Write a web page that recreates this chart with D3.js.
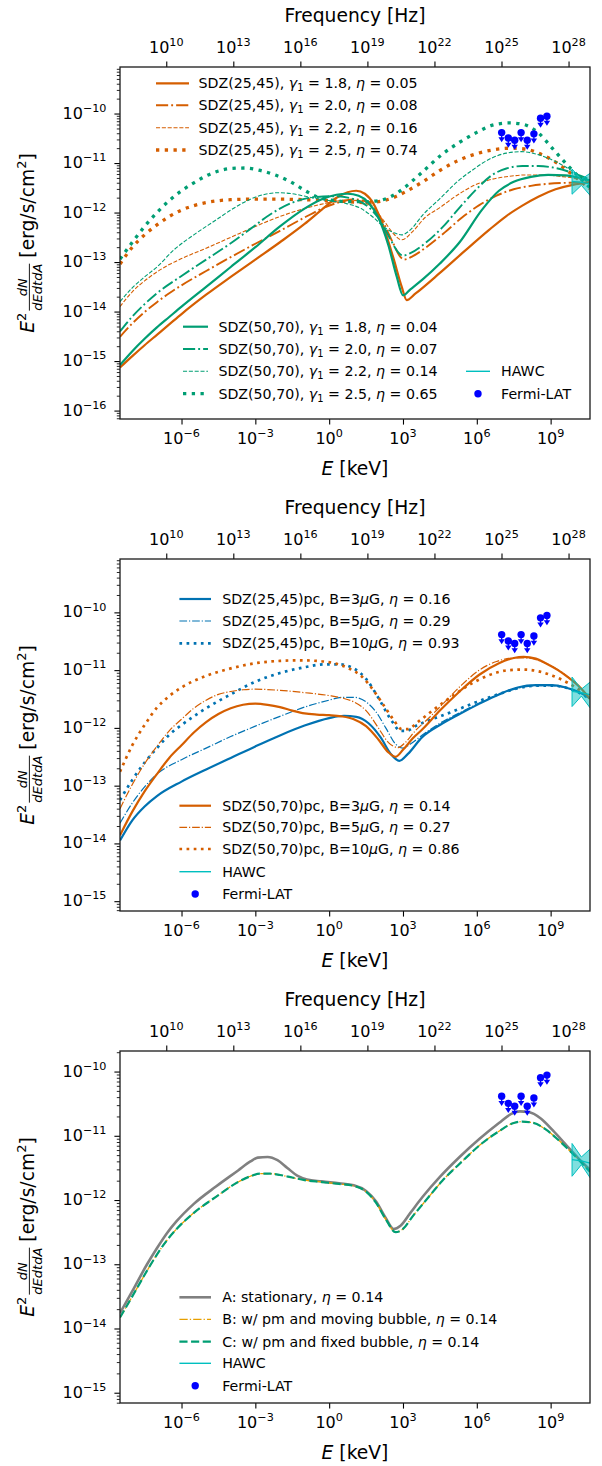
<!DOCTYPE html>
<html>
<head>
<meta charset="utf-8">
<script src="https://cdn.jsdelivr.net/npm/d3@7"></script>
<style>
  body { margin: 0; background: #fff; }
  svg { display: block; }
  text { white-space: pre; }
</style>
</head>
<body>
<div id="chart"></div>
<script>
// ---- data: [log10 E (keV), log10 E^2 dN/dEdtdA (erg/s/cm^2)] ----

// panel 1, SDZ(25,45)
const sdz2545_g18 = [[-8.5,-15.13],[-8,-14.9],[-7.5,-14.68],[-7,-14.47],[-6.5,-14.26],[-6,-14.05],[-5,-13.66],[-4,-13.3],[-3,-12.95],[-2,-12.6],[-1,-12.23],[-0.3,-11.94],[0.3,-11.7],[0.75,-11.59],[1.1,-11.56],[1.45,-11.62],[1.8,-11.82],[2.2,-12.28],[2.6,-12.9],[2.95,-13.5],[3.15,-13.77],[3.5,-13.64],[4.5,-13.22],[5.5,-12.78],[6.5,-12.35],[7.2,-12.07],[7.85,-11.86],[8.5,-11.68],[9.2,-11.53],[9.9,-11.44],[10.6,-11.39]];
const sdz2545_g20 = [[-8.5,-14.51],[-8,-14.24],[-7.5,-14.01],[-7,-13.81],[-6.5,-13.63],[-6,-13.47],[-5,-13.18],[-4,-12.9],[-3,-12.63],[-2,-12.37],[-1,-12.1],[-0.2,-11.9],[0.5,-11.78],[1,-11.73],[1.4,-11.76],[1.8,-11.9],[2.2,-12.2],[2.6,-12.62],[2.9,-12.9],[3.05,-12.95],[3.4,-12.88],[4,-12.68],[4.7,-12.4],[5.4,-12.1],[6.1,-11.85],[6.8,-11.66],[7.5,-11.53],[8.2,-11.46],[8.9,-11.42],[9.6,-11.4],[10.6,-11.39]];
const sdz2545_g22 = [[-8.5,-13.9],[-8,-13.6],[-7.5,-13.38],[-7,-13.2],[-6.5,-13.05],[-6,-12.93],[-5,-12.72],[-4,-12.5],[-3,-12.28],[-2,-12.08],[-1,-11.92],[0,-11.8],[0.7,-11.75],[1.2,-11.76],[1.7,-11.88],[2.2,-12.15],[2.6,-12.42],[2.95,-12.55],[3.4,-12.38],[3.9,-12.1],[4.5,-11.9],[5.2,-11.65],[5.9,-11.45],[6.6,-11.33],[7.3,-11.27],[8,-11.24],[8.7,-11.24],[9.4,-11.27],[10,-11.31],[10.6,-11.38]];
const sdz2545_g25 = [[-8.5,-13.04],[-8,-12.7],[-7.5,-12.45],[-7,-12.25],[-6.5,-12.08],[-6,-11.95],[-5.5,-11.86],[-5,-11.8],[-4.5,-11.76],[-4,-11.74],[-3,-11.73],[-2,-11.73],[-1,-11.74],[0,-11.76],[0.8,-11.78],[1.5,-11.8],[2.1,-11.77],[2.6,-11.7],[3.1,-11.58],[3.8,-11.38],[4.5,-11.15],[5.2,-10.96],[6,-10.81],[6.7,-10.73],[7.4,-10.7],[8,-10.72],[8.6,-10.82],[9.2,-10.98],[9.8,-11.2],[10.3,-11.4],[10.6,-11.52]];
// panel 1, SDZ(50,70)
const sdz5070_g18 = [[-8.5,-15.08],[-8,-14.8],[-7.5,-14.55],[-7,-14.32],[-6.5,-14.11],[-6,-13.9],[-5,-13.5],[-4,-13.1],[-3,-12.7],[-2,-12.28],[-1,-11.92],[-0.3,-11.73],[0.3,-11.64],[0.75,-11.62],[1.2,-11.66],[1.6,-11.8],[2,-12.1],[2.4,-12.65],[2.75,-13.3],[3,-13.67],[3.3,-13.55],[3.8,-13.35],[4.5,-13.03],[5.3,-12.6],[6.2,-11.95],[6.9,-11.56],[7.5,-11.38],[8.2,-11.28],[8.9,-11.24],[9.6,-11.25],[10.2,-11.3],[10.6,-11.35]];
const sdz5070_g20 = [[-8.5,-14.4],[-8,-14.1],[-7.5,-13.85],[-7,-13.63],[-6,-13.28],[-5,-12.95],[-4,-12.62],[-3.2,-12.33],[-2.4,-12.04],[-1.5,-11.8],[-0.6,-11.69],[0.2,-11.67],[1,-11.73],[1.6,-11.89],[2.1,-12.18],[2.5,-12.55],[2.8,-12.8],[3,-12.87],[3.3,-12.82],[3.9,-12.62],[4.6,-12.3],[5.3,-11.9],[6,-11.52],[6.6,-11.25],[7.2,-11.11],[7.85,-11.06],[8.5,-11.06],[9.2,-11.1],[9.9,-11.2],[10.6,-11.33]];
const sdz5070_g22 = [[-8.5,-13.8],[-8,-13.52],[-7.5,-13.3],[-7,-13.1],[-6.3,-12.75],[-5.5,-12.45],[-4.6,-12.15],[-4,-11.95],[-3.2,-11.73],[-2.6,-11.63],[-2.1,-11.6],[-1.5,-11.62],[-0.9,-11.68],[-0.1,-11.75],[0.7,-11.82],[1.3,-11.92],[1.8,-12.1],[2.25,-12.3],[2.7,-12.42],[2.95,-12.45],[3.3,-12.35],[3.8,-12.05],[4.5,-11.72],[5.2,-11.38],[5.8,-11.15],[6.6,-10.9],[7.2,-10.8],[7.8,-10.77],[8.5,-10.83],[9.2,-10.97],[9.9,-11.17],[10.6,-11.42]];
const sdz5070_g25 = [[-8.5,-12.94],[-8,-12.6],[-7.5,-12.28],[-7,-12],[-6.5,-11.76],[-6,-11.56],[-5.5,-11.4],[-5,-11.26],[-4.5,-11.16],[-4,-11.11],[-3.4,-11.1],[-2.8,-11.15],[-2.2,-11.24],[-1.6,-11.37],[-1,-11.55],[-0.5,-11.68],[0.1,-11.75],[0.8,-11.78],[1.4,-11.78],[2,-11.76],[2.5,-11.68],[3,-11.52],[3.7,-11.22],[4.6,-10.82],[5.3,-10.58],[6,-10.38],[6.6,-10.24],[7.3,-10.19],[7.9,-10.22],[8.5,-10.39],[9.1,-10.72],[9.7,-11.05],[10.15,-11.28],[10.6,-11.5]];

// panel 2, magnetic field variants
const pc2545_b3 = [[-8.5,-13.95],[-8,-13.6],[-7.5,-13.36],[-7,-13.18],[-6,-12.93],[-5,-12.72],[-4,-12.52],[-3,-12.32],[-2,-12.13],[-1,-11.96],[0,-11.83],[0.6,-11.79],[1.1,-11.81],[1.6,-11.92],[2.1,-12.17],[2.5,-12.45],[2.85,-12.57],[3.2,-12.45],[3.78,-12.16],[4.5,-11.95],[5.3,-11.76],[6.11,-11.58],[6.9,-11.42],[7.66,-11.3],[8.4,-11.26],[9.06,-11.26],[9.6,-11.3],[10.1,-11.37],[10.6,-11.49]];
const pc2545_b5 = [[-8.5,-13.65],[-8,-13.3],[-7.5,-13.02],[-7,-12.8],[-6,-12.55],[-5,-12.35],[-4,-12.15],[-3,-11.97],[-2,-11.8],[-1,-11.64],[0,-11.52],[0.5,-11.47],[1,-11.47],[1.5,-11.55],[1.9,-11.72],[2.3,-12],[2.7,-12.28],[3,-12.35],[3.3,-12.28],[3.8,-12.12],[4.5,-11.92],[5.3,-11.74],[6.1,-11.57],[6.9,-11.42],[7.7,-11.31],[8.4,-11.27],[9.1,-11.27],[9.6,-11.3],[10.1,-11.37],[10.6,-11.49]];
const pc2545_b10 = [[-8.5,-13.25],[-8,-12.9],[-7.5,-12.6],[-7,-12.35],[-6.5,-12.12],[-6,-11.95],[-5.5,-11.8],[-5,-11.66],[-4,-11.42],[-3,-11.2],[-2,-11.05],[-1,-10.95],[-0.2,-10.9],[0.4,-10.9],[1,-10.97],[1.5,-11.15],[2,-11.48],[2.5,-11.85],[2.9,-12.05],[3.15,-12.05],[3.5,-11.97],[4,-11.88],[5,-11.72],[6,-11.55],[7,-11.4],[7.8,-11.3],[8.5,-11.27],[9.1,-11.27],[9.6,-11.3],[10.1,-11.38],[10.6,-11.5]];
const pc5070_b3 = [[-8.5,-13.86],[-8,-13.45],[-7.5,-13.1],[-7,-12.8],[-6.5,-12.52],[-6,-12.3],[-5.5,-12.08],[-5,-11.9],[-4.5,-11.76],[-4,-11.66],[-3.5,-11.6],[-3,-11.58],[-2.5,-11.6],[-2,-11.64],[-1.5,-11.7],[-1,-11.75],[-0.5,-11.77],[0,-11.78],[0.5,-11.8],[1,-11.85],[1.5,-11.97],[2,-12.2],[2.4,-12.42],[2.7,-12.5],[3,-12.38],[3.4,-12.18],[3.8,-12.02],[4.5,-11.7],[5.3,-11.37],[6.1,-11.08],[6.9,-10.88],[7.5,-10.79],[7.9,-10.77],[8.4,-10.8],[8.8,-10.88],[9.3,-11],[9.7,-11.12],[10.2,-11.3],[10.6,-11.5]];
const pc5070_b5 = [[-8.5,-13.4],[-8,-12.98],[-7.5,-12.62],[-7,-12.32],[-6.5,-12.05],[-6,-11.85],[-5.5,-11.66],[-5,-11.52],[-4.5,-11.42],[-4,-11.37],[-3.5,-11.34],[-3,-11.33],[-2,-11.35],[-1,-11.39],[0,-11.44],[0.5,-11.48],[1,-11.55],[1.5,-11.7],[2,-12],[2.4,-12.25],[2.8,-12.34],[3.1,-12.25],[3.5,-12.05],[4,-11.85],[4.7,-11.55],[5.4,-11.25],[6.1,-11],[6.8,-10.85],[7.5,-10.79],[8,-10.79],[8.5,-10.83],[9,-10.92],[9.5,-11.05],[10,-11.22],[10.6,-11.48]];
const pc5070_b10 = [[-8.5,-12.76],[-8,-12.3],[-7.5,-11.95],[-7,-11.65],[-6.5,-11.45],[-6,-11.3],[-5,-11.1],[-4,-10.97],[-3,-10.88],[-2,-10.84],[-1.2,-10.83],[-0.5,-10.84],[0.2,-10.88],[0.8,-10.97],[1.3,-11.1],[1.8,-11.35],[2.2,-11.6],[2.6,-11.85],[2.95,-12.02],[3.2,-12.02],[3.6,-11.9],[4.2,-11.7],[5,-11.45],[5.8,-11.23],[6.6,-11.07],[7.3,-11],[7.9,-10.99],[8.5,-11.02],[9.1,-11.1],[9.7,-11.22],[10.2,-11.35],[10.6,-11.47]];

// panel 3, proper-motion scenarios
const caseA = [[-8.5,-13.76],[-8,-13.42],[-7.4,-13],[-7,-12.75],[-6.6,-12.52],[-6.2,-12.33],[-5.5,-12.06],[-4.6,-11.79],[-3.7,-11.54],[-3.2,-11.4],[-2.9,-11.34],[-2.5,-11.33],[-2.1,-11.38],[-1.7,-11.5],[-1.3,-11.62],[-0.9,-11.68],[-0.3,-11.71],[0.4,-11.74],[1,-11.77],[1.5,-11.86],[1.9,-12.02],[2.3,-12.28],[2.62,-12.45],[2.9,-12.4],[3.3,-12.2],[3.8,-11.95],[4.5,-11.64],[5.3,-11.33],[6.1,-11.05],[6.9,-10.8],[7.4,-10.66],[7.75,-10.62],[8.1,-10.63],[8.6,-10.73],[9.1,-10.92],[9.6,-11.13],[10.1,-11.34],[10.6,-11.53]];
const caseB = [[-8.5,-13.83],[-8,-13.5],[-7.4,-13.1],[-7,-12.85],[-6.6,-12.63],[-6.2,-12.45],[-5.5,-12.2],[-4.6,-11.95],[-3.7,-11.72],[-3.2,-11.63],[-2.8,-11.59],[-2.4,-11.59],[-2,-11.61],[-1.5,-11.65],[-1,-11.69],[-0.3,-11.72],[0.4,-11.75],[1,-11.78],[1.5,-11.87],[1.9,-12.04],[2.3,-12.3],[2.7,-12.5],[3,-12.45],[3.4,-12.25],[3.9,-12.02],[4.6,-11.7],[5.4,-11.4],[6.2,-11.12],[6.9,-10.93],[7.5,-10.8],[7.85,-10.78],[8.3,-10.8],[8.8,-10.9],[9.3,-11.06],[9.9,-11.28],[10.6,-11.56]];
const caseC = [[-8.5,-13.83],[-8,-13.5],[-7.4,-13.1],[-7,-12.85],[-6.6,-12.63],[-6.2,-12.45],[-5.5,-12.2],[-4.6,-11.95],[-3.7,-11.72],[-3.2,-11.63],[-2.8,-11.59],[-2.4,-11.59],[-2,-11.61],[-1.5,-11.65],[-1,-11.69],[-0.3,-11.72],[0.4,-11.75],[1,-11.78],[1.5,-11.87],[1.9,-12.04],[2.3,-12.3],[2.7,-12.5],[3,-12.45],[3.4,-12.25],[3.9,-12.02],[4.6,-11.7],[5.4,-11.4],[6.2,-11.12],[6.9,-10.93],[7.5,-10.8],[7.85,-10.78],[8.3,-10.8],[8.8,-10.9],[9.3,-11.06],[9.9,-11.28],[10.6,-11.56]];

// observations (log10)
const fermiLogE = [7.01, 7.28, 7.54, 7.80, 8.05, 8.32, 8.59, 8.85];
const fermiLogF = [-10.385, -10.495, -10.54, -10.385, -10.54, -10.41, -10.095, -10.055];
const hawcLogE = [9.87, 10.25, 10.65];
const hawcUpper = [-11.12, -11.33, -11.19];
const hawcLower = [-11.63, -11.45, -11.68];
const hawcFit = [-11.37, -11.39, -11.43];

// axis ticks
const eTicks = [1e-6, 1e-3, 1, 1e3, 1e6, 1e9];
const nuTicks = [1e10, 1e13, 1e16, 1e19, 1e22, 1e25, 1e28];

// ---- layout ----
const W = 602, H = 1466;
const X0 = 120, X1 = 590;
const E_DOM = [-8.5, 10.6];      // log10 keV
const NU_DOM = [7.93, 28.96];    // log10 Hz (secondary axis)
const ORANGE = "#d55e00", GREEN = "#009e73", BLUE = "#0072b2", GRAY = "#808080", GOLD = "#e69f00";
const CYAN = "#00bfbf", FERMI = "#0000ff";
const TICK_FS = 16, LABEL_FS = 18.7, LEG_FS = 14.2;

const solid = (c, w) => ({ c, w, dash: null });
const dashdot = (c, w) => ({ c, w, dash: [6.4, 1.6, 1, 1.6].map(v => v * w).join(",") });
const dashed = (c, w) => ({ c, w, dash: [3.7, 1.6].map(v => v * w).join(",") });
const dotted = (c, w) => ({ c, w, dash: [1, 1.65].map(v => v * w).join(",") });

const g = (sym) => [sym, "i"];
const panels = [
  {
    top: 67, bottom: 419, yDom: [-16.17, -9.06],
    series: [
      { d: sdz2545_g18, s: solid(ORANGE, 2.2) },
      { d: sdz2545_g20, s: dashdot(ORANGE, 1.9) },
      { d: sdz2545_g22, s: dashed(ORANGE, 1.1) },
      { d: sdz2545_g25, s: dotted(ORANGE, 3.3) },
      { d: sdz5070_g18, s: solid(GREEN, 2.2) },
      { d: sdz5070_g20, s: dashdot(GREEN, 1.9) },
      { d: sdz5070_g22, s: dashed(GREEN, 1.1) },
      { d: sdz5070_g25, s: dotted(GREEN, 3.3) }
    ],
    legends: [
      { x0: 156, x1: 189, tx: 198.5, rows: [83.3, 105.3, 127.7, 150], items: [0, 1, 2, 3].map(i => ({ k: "s", i })),
        labels: ["1.8", "2.0", "2.2", "2.5"].map((gm, i) => [["SDZ(25,45), "], g("γ"), ["1", "sub"], [" = " + gm + ", "], g("η"), [" = " + ["0.05", "0.08", "0.16", "0.74"][i]]]) },
      { x0: 183, x1: 208, tx: 218.4, rows: [326.7, 349, 371.3, 393.7], items: [4, 5, 6, 7].map(i => ({ k: "s", i })),
        labels: ["1.8", "2.0", "2.2", "2.5"].map((gm, i) => [["SDZ(50,70), "], g("γ"), ["1", "sub"], [" = " + gm + ", "], g("η"), [" = " + ["0.04", "0.07", "0.14", "0.65"][i]]]) },
      { x0: 466, x1: 490, tx: 501, rows: [371.3, 393.7], items: [{ k: "hawc" }, { k: "fermi" }], labels: [[["HAWC"]], [["Fermi-LAT"]]] }
    ]
  },
  {
    top: 559, bottom: 911, yDom: [-15.17, -9.076],
    series: [
      { d: pc2545_b3, s: solid(BLUE, 2.2) },
      { d: pc2545_b5, s: dashdot(BLUE, 1.2) },
      { d: pc2545_b10, s: dotted(BLUE, 2.7) },
      { d: pc5070_b3, s: solid(ORANGE, 2.2) },
      { d: pc5070_b5, s: dashdot(ORANGE, 1.2) },
      { d: pc5070_b10, s: dotted(ORANGE, 2.7) }
    ],
    legends: [
      { x0: 179.4, x1: 211, tx: 222.2, rows: [599, 621, 643.3], items: [0, 1, 2].map(i => ({ k: "s", i })),
        labels: [["3", "0.16"], ["5", "0.29"], ["10", "0.93"]].map(([b, e]) => [["SDZ(25,45)pc, B=" + b], g("μ"), ["G, "], g("η"), [" = " + e]]) },
      { x0: 179.4, x1: 211, tx: 222.2, rows: [805.7, 827.3, 849, 871.7, 894], items: [3, 4, 5].map(i => ({ k: "s", i })).concat([{ k: "hawc" }, { k: "fermi" }]),
        labels: [["3", "0.14"], ["5", "0.27"], ["10", "0.86"]].map(([b, e]) => [["SDZ(50,70)pc, B=" + b], g("μ"), ["G, "], g("η"), [" = " + e]]).concat([[["HAWC"]], [["Fermi-LAT"]]]) }
    ]
  },
  {
    top: 1051, bottom: 1403, yDom: [-15.16, -9.68],
    series: [
      { d: caseA, s: solid(GRAY, 2.6) },
      { d: caseB, s: dashdot(GOLD, 1.3) },
      { d: caseC, s: dashed(GREEN, 2.2) }
    ],
    legends: [
      { x0: 179.4, x1: 211, tx: 222.2, rows: [1297.3, 1319.3, 1341.7, 1363.3, 1385.7],
        items: [0, 1, 2].map(i => ({ k: "s", i })).concat([{ k: "hawc" }, { k: "fermi" }]),
        labels: [
          [["A: stationary, "], g("η"), [" = 0.14"]],
          [["B: w/ pm and moving bubble, "], g("η"), [" = 0.14"]],
          [["C: w/ pm and fixed bubble, "], g("η"), [" = 0.14"]],
          [["HAWC"]], [["Fermi-LAT"]]
        ] }
    ]
  }
];

const svg = d3.select("#chart").append("svg")
  .attr("width", W).attr("height", H)
  .style("font-family", "'DejaVu Sans', sans-serif");

function pow10(t, exp, fs) {
  t.append("tspan").text("10");
  t.append("tspan").attr("font-size", fs * 0.7).attr("dy", -fs * 0.42)
    .text(String(exp).replace("-", "\u2212"));
}

function rich(t, segs, fs) {
  let shift = 0;
  segs.forEach(([txt, kind]) => {
    const sp = t.append("tspan").text(txt);
    if (kind === "i") sp.attr("font-style", "italic");
    if (kind === "sub") {
      sp.attr("font-size", fs * 0.7).attr("dy", fs * 0.22 - shift);
      shift = fs * 0.22;
    } else if (shift) {
      sp.attr("dy", -shift);
      shift = 0;
    }
  });
}

function yLabel(cy) {
  const outer = svg.append("g").attr("transform", `translate(34,${cy}) rotate(-90)`);
  const gl = outer.append("g");
  const t1 = gl.append("text").attr("font-size", LABEL_FS);
  t1.append("tspan").attr("font-style", "italic").text("E");
  t1.append("tspan").attr("font-size", 13).attr("dy", -8).text("2");
  const w1 = t1.node().getComputedTextLength();
  const fx = w1 + 2;
  const den = gl.append("text").attr("font-size", 13).attr("font-style", "italic")
    .attr("x", fx).attr("y", 7.5).text("dEdtdA");
  const wd = den.node().getComputedTextLength();
  gl.append("text").attr("font-size", 13).attr("font-style", "italic")
    .attr("x", fx + wd / 2).attr("y", -7).attr("text-anchor", "middle").text("dN");
  gl.append("line").attr("x1", fx).attr("x2", fx + wd).attr("y1", -4.6).attr("y2", -4.6)
    .attr("stroke", "#000").attr("stroke-width", 0.9);
  const t3 = gl.append("text").attr("font-size", LABEL_FS).attr("x", fx + wd + 6);
  t3.append("tspan").text("[erg/s/cm");
  t3.append("tspan").attr("font-size", 13).attr("dy", -8).text("2");
  t3.append("tspan").attr("dy", 8).text("]");
  const total = fx + wd + 6 + t3.node().getComputedTextLength();
  gl.attr("transform", `translate(${-total / 2},0)`);
}

panels.forEach((p, pi) => {
  const x = d3.scaleLog().domain([10 ** E_DOM[0], 10 ** E_DOM[1]]).range([X0, X1]);
  const xTop = d3.scaleLog().domain([10 ** NU_DOM[0], 10 ** NU_DOM[1]]).range([X0, X1]);
  const y = d3.scaleLog().domain([10 ** p.yDom[0], 10 ** p.yDom[1]]).range([p.bottom, p.top]);
  const panel = svg.append("g");

  panel.append("clipPath").attr("id", "clip" + pi)
    .append("rect").attr("x", X0).attr("y", p.top).attr("width", X1 - X0).attr("height", p.bottom - p.top);

  const line = d3.line()
    .x(d => x(10 ** d[0]))
    .y(d => y(10 ** d[1]))
    .curve(d3.curveMonotoneX);

  const plot = panel.append("g").attr("clip-path", `url(#clip${pi})`);

  // model curves
  p.series.forEach(sr => {
    plot.append("path").datum(sr.d)
      .attr("fill", "none")
      .attr("stroke", sr.s.c)
      .attr("stroke-width", sr.s.w)
      .attr("stroke-dasharray", sr.s.dash)
      .attr("d", line);
  });

  // HAWC butterfly
  const hawc = hawcLogE.map((e, i) => ({ e, lo: hawcLower[i], hi: hawcUpper[i], f: hawcFit[i] }));
  plot.append("path").datum(hawc)
    .attr("fill", CYAN).attr("fill-opacity", 0.5)
    .attr("stroke", CYAN).attr("stroke-width", 1)
    .attr("d", d3.area().x(d => x(10 ** d.e)).y0(d => y(10 ** d.lo)).y1(d => y(10 ** d.hi)));
  plot.append("path").datum(hawc)
    .attr("fill", "none").attr("stroke", CYAN).attr("stroke-width", 1.2)
    .attr("d", d3.line().x(d => x(10 ** d.e)).y(d => y(10 ** d.f)));

  // Fermi-LAT upper limits
  const fermi = fermiLogE.map((e, i) => ({ x: x(10 ** e), y: y(10 ** fermiLogF[i]) }));
  const fg = panel.append("g").attr("fill", FERMI).attr("stroke", FERMI);
  fg.selectAll("line").data(fermi).join("line")
    .attr("x1", d => d.x).attr("x2", d => d.x).attr("y1", d => d.y).attr("y2", d => d.y + 6)
    .attr("stroke-width", 1.3);
  fg.selectAll("path").data(fermi).join("path")
    .attr("stroke", "none")
    .attr("d", d => `M${d.x - 3.2},${d.y + 4.6}L${d.x + 3.2},${d.y + 4.6}L${d.x},${d.y + 9.6}Z`);
  fg.selectAll("circle").data(fermi).join("circle")
    .attr("stroke", "none")
    .attr("cx", d => d.x).attr("cy", d => d.y).attr("r", 3.7);

  // axes
  const styleTicks = (a, w) => a.call(s => s.select(".domain").remove())
    .call(s => s.selectAll("line").attr("stroke", "#000").attr("stroke-width", w));

  panel.append("g").attr("transform", `translate(0,${p.bottom})`)
    .call(d3.axisBottom(x).tickValues(eTicks).tickSize(5.6).tickFormat(() => ""))
    .call(a => styleTicks(a, 1.1));
  panel.append("g").attr("transform", `translate(0,${p.top})`)
    .call(d3.axisTop(xTop).tickValues(nuTicks).tickSize(5.6).tickFormat(() => ""))
    .call(a => styleTicks(a, 1.1));

  const yMaj = d3.range(Math.ceil(p.yDom[0]), Math.floor(p.yDom[1]) + 1).map(k => 10 ** k);
  const yMin = [];
  for (let k = Math.floor(p.yDom[0]); k <= Math.floor(p.yDom[1]); k++) {
    for (let m = 2; m <= 9; m++) {
      const v = m * 10 ** k;
      if (Math.log10(v) > p.yDom[0] && Math.log10(v) < p.yDom[1]) yMin.push(v);
    }
  }
  panel.append("g").attr("transform", `translate(${X0},0)`)
    .call(d3.axisLeft(y).tickValues(yMaj).tickSize(5.6).tickFormat(() => ""))
    .call(a => styleTicks(a, 1.1));
  panel.append("g").attr("transform", `translate(${X0},0)`)
    .call(d3.axisLeft(y).tickValues(yMin).tickSize(3.2).tickFormat(() => ""))
    .call(a => styleTicks(a, 0.85));

  eTicks.forEach(v => {
    const t = panel.append("text").attr("x", x(v)).attr("y", p.bottom + 24.6)
      .attr("text-anchor", "middle").attr("font-size", TICK_FS);
    pow10(t, Math.round(Math.log10(v)), TICK_FS);
  });
  nuTicks.forEach(v => {
    const t = panel.append("text").attr("x", xTop(v)).attr("y", p.top - 14)
      .attr("text-anchor", "middle").attr("font-size", TICK_FS);
    pow10(t, Math.round(Math.log10(v)), TICK_FS);
  });
  yMaj.forEach(v => {
    const t = panel.append("text").attr("x", 106.5).attr("y", y(v) + 5)
      .attr("text-anchor", "end").attr("font-size", TICK_FS);
    pow10(t, Math.round(Math.log10(v)), TICK_FS);
  });

  panel.append("rect").attr("x", X0).attr("y", p.top)
    .attr("width", X1 - X0).attr("height", p.bottom - p.top)
    .attr("fill", "none").attr("stroke", "#1a1a1a").attr("stroke-width", 1.3);

  // axis titles
  panel.append("text").attr("x", (X0 + X1) / 2).attr("y", p.top - 45.5)
    .attr("text-anchor", "middle").attr("font-size", LABEL_FS).text("Frequency [Hz]");
  const xt = panel.append("text").attr("x", (X0 + X1) / 2).attr("y", p.bottom + 56)
    .attr("text-anchor", "middle").attr("font-size", LABEL_FS);
  xt.append("tspan").attr("font-style", "italic").text("E");
  xt.append("tspan").text(" [keV]");
  yLabel((p.top + p.bottom) / 2);

  // legends
  p.legends.forEach(L => {
    const lg = panel.append("g");
    L.items.forEach((it, r) => {
      const ry = L.rows[r];
      if (it.k === "s") {
        const s = p.series[it.i].s;
        lg.append("line").attr("x1", L.x0).attr("x2", L.x1).attr("y1", ry).attr("y2", ry)
          .attr("stroke", s.c).attr("stroke-width", s.w).attr("stroke-dasharray", s.dash);
      } else if (it.k === "hawc") {
        lg.append("line").attr("x1", L.x0).attr("x2", L.x1).attr("y1", ry).attr("y2", ry)
          .attr("stroke", CYAN).attr("stroke-width", 1.4);
      } else {
        lg.append("circle").attr("cx", (L.x0 + L.x1) / 2).attr("cy", ry).attr("r", 3.7).attr("fill", FERMI);
      }
      const t = lg.append("text").attr("x", L.tx).attr("y", ry + 5).attr("font-size", LEG_FS);
      rich(t, L.labels[r], LEG_FS);
    });
  });
});
</script>
</body>
</html>
